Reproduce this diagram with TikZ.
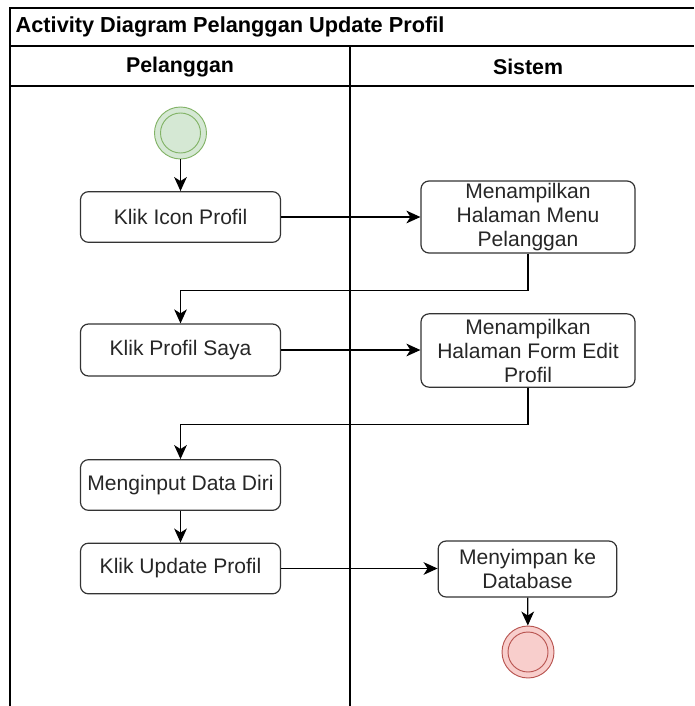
\documentclass[tikz,border=0pt]{standalone}
\usepackage{fontspec}
\setmainfont{Liberation Sans}
\usetikzlibrary{arrows.meta}
\definecolor{startfill}{HTML}{D5E8D4}
\definecolor{startline}{HTML}{82B366}
\definecolor{endfill}{HTML}{F8CECC}
\definecolor{endline}{HTML}{B85450}
\begin{document}
\begin{tikzpicture}[x=0.75pt, y=-0.75pt]
	\tikzset{act/.style={draw=black!80, rounded corners=6pt, line width=0.9pt, align=center, text=black!85,
		font=\fontsize{15.8}{18}\selectfont, inner sep=0pt},
	f/.style={-{Stealth[length=10.5pt, width=9.5pt, inset=3pt]}, line width=0.9pt},
	lane/.style={line width=1pt}};

	\useasboundingbox (0,0) rectangle (694,706);

	% swimlane frame
	\draw[lane] (694,8) -- (10,8) -- (10,706);
	\draw[lane] (10,46) -- (694,46);
	\draw[lane] (10,86) -- (694,86);
	\draw[lane] (350,46) -- (350,706);
	\node[anchor=west, font=\bfseries\fontsize{16.3}{18}\selectfont] (title) at (11,27) {Activity Diagram Pelanggan Update Profil};
	\node[font=\bfseries\fontsize{16}{18}\selectfont] (pel) at (180,67) {Pelanggan};
	\node[font=\bfseries\fontsize{16}{18}\selectfont] (sis) at (528,67) {Sistem};

	% start and end
	\node[circle, draw=startline, fill=startfill, minimum size=39pt, line width=0.7pt] (start) at (180.5,133) {};
	\node[circle, draw=startline, minimum size=30pt, line width=0.7pt] at (start) {};
	\node[circle, draw=endline, fill=endfill, minimum size=39pt, line width=0.7pt] (end) at (528,652) {};
	\node[circle, draw=endline, minimum size=30pt, line width=0.7pt] at (end) {};

	% actions
	\node[act, minimum width=150pt, minimum height=38pt] (icon) at (180.5,217) {Klik Icon Profil};
	\node[act, minimum width=160.5pt, minimum height=54pt] (menu) at (528,217) {Menampilkan\\Halaman Menu\\Pelanggan};
	\node[act, minimum width=150pt, minimum height=39pt] (saya) at (180.5,350) {Klik Profil Saya};
	\node[act, minimum width=160.5pt, minimum height=55pt] (form) at (528,350.5) {Menampilkan\\Halaman Form Edit\\Profil};
	\node[act, minimum width=150pt, minimum height=38pt] (input) at (180.5,485) {Menginput Data Diri};
	\node[act, minimum width=150pt, minimum height=38pt] (update) at (180.5,568.5) {Klik Update Profil};
	\node[act, minimum width=134pt, minimum height=42pt] (simpan) at (527.5,569) {Menyimpan ke\\Database};

	% flows
	\draw[f] (start) -- (icon);
	\draw[f] (icon) -- (menu);
	\draw[f] (menu.south) -- ++(0,37) -| (saya.north);
	\draw[f] (saya) -- (form.west |- saya);
	\draw[f] (form.south) -- ++(0,37) -| (input.north);
	\draw[f] (input) -- (update);
	\draw[f] (update) -- (simpan.west |- update);
	\draw[f] (simpan) -- (end);
\end{tikzpicture}
\end{document}
